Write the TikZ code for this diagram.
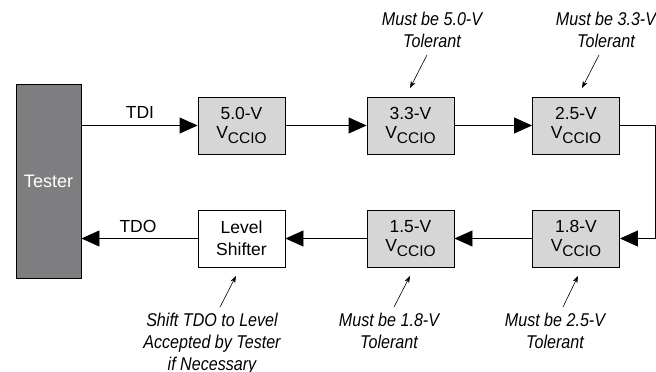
\documentclass[tikz,border=0pt]{standalone}
\usepackage{fontspec}
\setmainfont{Liberation Sans}
\newfontfamily\annfont{Liberation Sans}[FakeStretch=0.87]
\usetikzlibrary{arrows.meta}
\definecolor{boxgray}{RGB}{214,214,214}
\definecolor{testergray}{RGB}{126,126,128}
\newcommand{\vccio}{V\raisebox{-5pt}{\fontsize{15.5}{15.5}\selectfont CCIO}}
\begin{document}
\begin{tikzpicture}[x=1pt,y=-1pt,
  box/.style={draw=black, line width=0.9pt, fill=boxgray, minimum width=87pt,
    minimum height=57pt, align=center, inner sep=0pt,
    font=\fontsize{17.5}{19}\selectfont},
  wbox/.style={box, fill=white, font=\fontsize{17.5}{22}\selectfont},
  flow/.style={line width=0.9pt, -{Triangle[length=18pt,width=16pt]}},
  wire/.style={line width=0.9pt},
  ann/.style={align=center, inner sep=0pt, anchor=north,
    font=\annfont\itshape\fontsize{18.5}{22}\selectfont},
  annarr/.style={line width=0.6pt, -{Stealth[length=7pt,width=5pt]}},
  sig/.style={inner sep=0pt, font=\fontsize{17.5}{19}\selectfont}]
\useasboundingbox (0,0) rectangle (656,372);

\node[draw=black, line width=0.9pt, fill=testergray, minimum width=65pt,
  minimum height=194pt, inner sep=0pt, text=white,
  font=\fontsize{18}{19}\selectfont] (tester) at (48.5,181) {Tester};

\node[box] (b50) at (241.5,125.5) {5.0-V\\\vccio};
\node[box] (b33) at (410.5,125.5) {3.3-V\\\vccio};
\node[box] (b25) at (576,125.5) {2.5-V\\\vccio};
\node[wbox] (ls) at (241.5,238.5) {Level\\Shifter};
\node[box] (b15) at (410.5,238.5) {1.5-V\\\vccio};
\node[box] (b18) at (576,238.5) {1.8-V\\\vccio};

\coordinate (rc) at (655,0);

\draw[flow] (tester.east |- b50.west) -- (b50.west);
\draw[flow] (b50.east) -- (b33.west);
\draw[flow] (b33.east) -- (b25.west);
\draw[wire] (b25.east) -- (b25.east -| rc) -- (b18.east -| rc);
\draw[flow] (b18.east -| rc) -- (b18.east);
\draw[flow] (b18.west) -- (b15.east);
\draw[flow] (b15.west) -- (ls.east);
\draw[flow] (ls.west) -- (ls.west -| tester.east);

\node[sig] (tdi) at (140,112) {TDI};
\node[sig] (tdo) at (138,226) {TDO};

\node[ann] (n1) at (432,12) {Must be 5.0-V\\Tolerant};
\node[ann] (n2) at (606,12) {Must be 3.3-V\\Tolerant};
\node[ann] (n3) at (212,313) {Shift TDO to Level\\Accepted by Tester\\if Necessary};
\node[ann] (n4) at (389,313) {Must be 1.8-V\\Tolerant};
\node[ann] (n5) at (555,313) {Must be 2.5-V\\Tolerant};

\coordinate (a1s) at (427,55);  \coordinate (a1e) at (410,88);
\coordinate (a2s) at (599,55);  \coordinate (a2e) at (582,88);
\coordinate (a3s) at (220,307); \coordinate (a3e) at (236,276);
\coordinate (a4s) at (394,307); \coordinate (a4e) at (410,276);
\coordinate (a5s) at (563,307); \coordinate (a5e) at (578,276);
\draw[annarr] (a1s) -- (a1e);
\draw[annarr] (a2s) -- (a2e);
\draw[annarr] (a3s) -- (a3e);
\draw[annarr] (a4s) -- (a4e);
\draw[annarr] (a5s) -- (a5e);
\end{tikzpicture}
\end{document}
